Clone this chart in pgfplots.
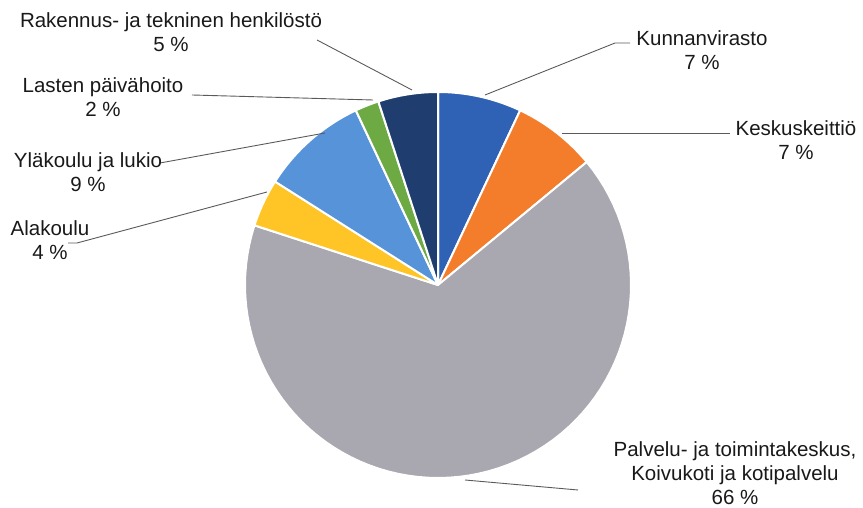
\documentclass[border=0pt]{standalone}
\usepackage{pgfplots}
\pgfplotsset{compat=1.18}
\usepackage{fontspec}
\setmainfont{Liberation Sans}

\definecolor{cKunta}{HTML}{2F62B5}
\definecolor{cKeittio}{HTML}{F47D2C}
\definecolor{cPalvelu}{HTML}{A9A7B0}
\definecolor{cAla}{HTML}{FFC425}
\definecolor{cYla}{HTML}{5693D8}
\definecolor{cLasten}{HTML}{6EAA44}
\definecolor{cRak}{HTML}{1F3E6F}
\definecolor{leader}{HTML}{5A5A5A}

% centre and radius of the pie in axis units
\def\cx{438}
\def\cy{223}
\def\rr{193}

% one slice, from cumulative share #1 to #2 (in %), clockwise from 12 o'clock
\newcommand{\slice}[3]{%
  \addplot[fill=#3, draw=white, line width=2pt, line join=round,
    domain=90-3.6*#2:90-3.6*#1, samples=80, variable=\t]
    ({\cx+\rr*cos(\t)},{\cy+\rr*sin(\t)}) -- (axis cs:\cx,\cy) -- cycle;}

\tikzset{lbl/.style={font=\fontsize{20.5}{24}\selectfont, text=black!90, align=center, inner sep=0pt}}

\begin{document}
\begin{tikzpicture}
\begin{axis}[
    x=1pt, y=1pt,
    xmin=0, xmax=863, ymin=0, ymax=508,
    hide axis, clip=false,
    ]
\path (axis cs:0,0) rectangle (axis cs:863,508);

% shares: 7, 7, 66, 4, 9, 2, 5 (cumulative 0,7,14,80,84,93,95,100)
\slice{0}{7}{cKunta}
\slice{7}{14}{cKeittio}
\slice{14}{80}{cPalvelu}
\slice{80}{84}{cAla}
\slice{84}{93}{cYla}
\slice{93}{95}{cLasten}
\slice{95}{100}{cRak}

% leader lines
\draw[leader, line width=0.9pt] (axis cs:485,413) -- (axis cs:615,465) -- (axis cs:630,465);
\draw[leader, line width=0.9pt] (axis cs:562,375) -- (axis cs:730,375);
\draw[leader, line width=0.9pt] (axis cs:465,28) -- (axis cs:578,18);
\draw[leader, line width=0.9pt] (axis cs:267,316) -- (axis cs:77,265) -- (axis cs:68,265);
\draw[leader, line width=0.9pt] (axis cs:325,375) -- (axis cs:160,345);
\draw[leader, line width=0.9pt] (axis cs:373,408) -- (axis cs:192,413);
\draw[leader, line width=0.9pt] (axis cs:412,418) -- (axis cs:317,468);

% labels
\node[lbl] at (axis cs:702,458) {Kunnanvirasto\\7 \%};
\node[lbl] at (axis cs:796,368) {Keskuskeittiö\\7 \%};
\node[lbl] at (axis cs:735,35) {Palvelu- ja toimintakeskus,\\Koivukoti ja kotipalvelu\\66 \%};
\node[lbl] at (axis cs:50,268) {Alakoulu\\4 \%};
\node[lbl] at (axis cs:88,336) {Yläkoulu ja lukio\\9 \%};
\node[lbl] at (axis cs:103,411) {Lasten päivähoito\\2 \%};
\node[lbl] at (axis cs:171,476) {Rakennus- ja tekninen henkilöstö\\5 \%};
\end{axis}
\end{tikzpicture}
\end{document}
